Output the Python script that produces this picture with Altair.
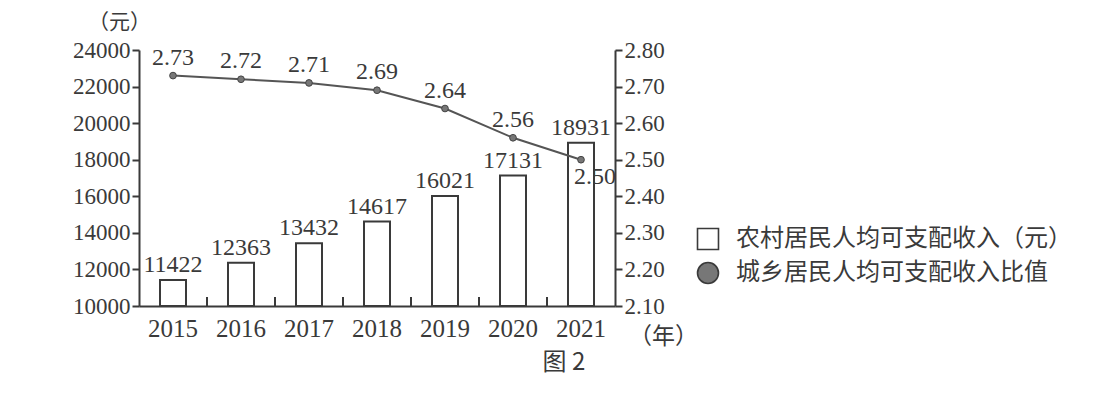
import altair as alt
import pandas as pd

years = ["2015", "2016", "2017", "2018", "2019", "2020", "2021"]
income = [11422, 12363, 13432, 14617, 16021, 17131, 18931]
ratio = [2.73, 2.72, 2.71, 2.69, 2.64, 2.56, 2.50]
ratio_labels = ["2.73", "2.72", "2.71", "2.69", "2.64", "2.56", "2.50"]
left_ticks = [10000, 12000, 14000, 16000, 18000, 20000, 22000, 24000]
right_ticks = [2.10, 2.20, 2.30, 2.40, 2.50, 2.60, 2.70, 2.80]
series_bar = "农村居民人均可支配收入（元）"
series_ratio = "城乡居民人均可支配收入比值"

df = pd.DataFrame({
    "year": years,
    "income": income,
    "ratio": ratio,
    "rlabel": ratio_labels,
    "s_bar": series_bar,
    "s_ratio": series_ratio,
})

INK = "#3a3a3a"
FONT = "Liberation Serif, 'Noto Sans CJK SC', serif"
CJK = "'Noto Sans CJK SC', sans-serif"
W, H = 476, 256

xaxis = alt.Axis(title="（年）", titleAngle=0, titleX=W + 48, titleY=30,
                 titleAlign="center", titleBaseline="middle", titleFont=CJK,
                 titleFontSize=23, titleFontWeight="normal", titleColor=INK,
                 labelAngle=0, labelFontSize=25, labelColor=INK, labelPadding=10,
                 ticks=False, domainColor=INK, domainWidth=2)
xscale = alt.Scale(paddingInner=0, paddingOuter=0)
xenc = alt.X("year:O", sort=years, scale=xscale, axis=xaxis)
xrule = alt.X("year:O", sort=years, scale=xscale, axis=xaxis, bandPosition=0)

color_scale = alt.Scale(domain=[series_bar, series_ratio], range=["white", "#777777"])
shape_scale = alt.Scale(domain=[series_bar, series_ratio], range=["square", "circle"])
legend = alt.Legend(title=None, orient="none", legendX=557, legendY=177,
                    labelFontSize=24, labelColor=INK, labelFont=CJK,
                    symbolSize=440, symbolStrokeColor=INK, symbolStrokeWidth=1.6,
                    rowPadding=6, labelOffset=16, labelLimit=600)

laxis = alt.Axis(values=left_ticks, tickCount=8, format="d", labelOverlap=False, labelBound=False,
                 title="（元）", titleAngle=0, titleX=-20, titleY=-28,
                 titleAlign="center", titleBaseline="middle", titleFontSize=21, titleFont=CJK,
                 titleFontWeight="normal",
                 titleColor=INK, labelFontSize=23, labelColor=INK, grid=False,
                 tickSize=7, tickWidth=2, tickColor=INK, domainColor=INK, domainWidth=2,
                 labelPadding=2)
lscale = alt.Scale(domain=[10000, 24000], nice=False, zero=False)
yleft = alt.Y("income:Q", scale=lscale, axis=laxis)

bars = alt.Chart(df).mark_bar(size=26, stroke=INK, strokeWidth=2).encode(
    x=xenc,
    y=yleft,
    y2=alt.datum(10000),
    color=alt.Color("s_bar:N", scale=color_scale, legend=legend),
    shape=alt.Shape("s_bar:N", scale=shape_scale, legend=legend),
)
bar_text = alt.Chart(df).mark_text(dy=-15, fontSize=24, color=INK, font=FONT).encode(
    x=xenc, y=yleft, text=alt.Text("income:Q", format="d"))
bticks = alt.Chart(df[df["year"] != "2015"]).mark_rule(color=INK, strokeWidth=2).encode(
    x=xrule,
    y=alt.value(H - 9), y2=alt.value(H))
left_layer = alt.layer(bars, bar_text, bticks)

raxis = alt.Axis(orient="right", values=right_ticks, tickCount=8, format=".2f", title=None,
                 labelOverlap=False, labelBound=False,
                 labelFontSize=23, labelColor=INK, grid=False, tickSize=7, tickWidth=2,
                 tickColor=INK, domainColor=INK, domainWidth=2, labelPadding=2)
rscale = alt.Scale(domain=[2.10, 2.80], nice=False, zero=False)
yright = alt.Y("ratio:Q", scale=rscale, axis=raxis)
line = alt.Chart(df).mark_line(color="#555555", strokeWidth=2).encode(
    x=xenc, y=yright)
pts = alt.Chart(df).mark_point(filled=True, size=45, stroke="#444444", strokeWidth=1, opacity=1).encode(
    x=xenc, y=yright,
    color=alt.Color("s_ratio:N", scale=color_scale, legend=legend),
    shape=alt.Shape("s_ratio:N", scale=shape_scale, legend=legend))
rtext = alt.Chart(df[df["year"] != "2021"]).mark_text(dy=-18, fontSize=24, color=INK, font=FONT).encode(
    x=xenc, y=yright, text="rlabel:N")
rtext2 = alt.Chart(df[df["year"] == "2021"]).mark_text(dy=17, dx=14, fontSize=24, color=INK, font=FONT).encode(
    x=xenc, y=yright, text="rlabel:N")
right_layer = alt.layer(line, pts, rtext, rtext2)

chart = alt.layer(left_layer, right_layer).resolve_scale(y="independent").properties(
    width=W, height=H,
    autosize=alt.AutoSizeParams(type="none"),
    padding={"left": 131, "top": 42, "right": 494, "bottom": 93},
    title=alt.TitleParams("图 2", orient="bottom", anchor="start", dx=470, offset=3,
                          fontSize=24, fontWeight="normal", color=INK, font=CJK),
).configure(font=FONT, background="white").configure_view(stroke=None).configure_axis(
    labelOverlap=False, labelBound=False)

chart.save("out.html", embed_options={"renderer": "svg", "actions": False})
